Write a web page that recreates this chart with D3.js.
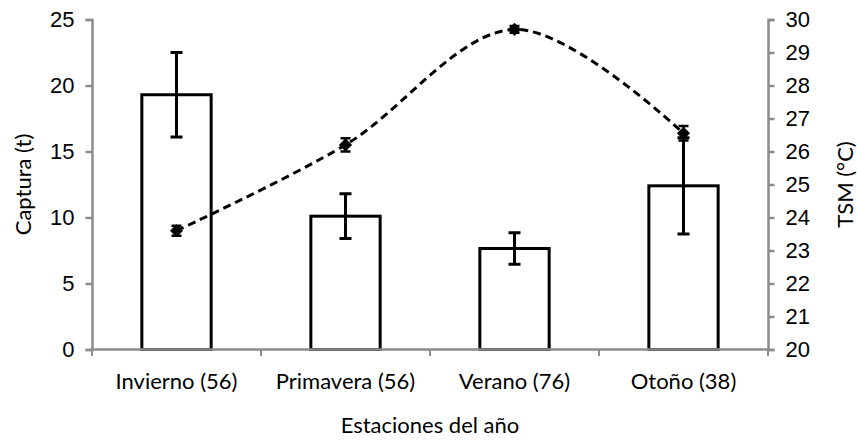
<!DOCTYPE html>
<html>
<head>
<meta charset="utf-8">
<script src="https://cdn.jsdelivr.net/npm/d3@7"></script>
<style>
  body { margin: 0; background: #fff; }
  svg { display: block; font-family: Lato, "Open Sans", sans-serif; }
</style>
</head>
<body>
<script>
const seasons = ["Invierno (56)", "Primavera (56)", "Verano (76)", "Otoño (38)"];
const captura = [19.3, 10.1, 7.65, 12.4];
const capturaErr = [3.2, 1.7, 1.2, 3.65];
const tsm = [23.6, 26.2, 29.7, 26.55];
const tsmErr = [0.15, 0.2, 0.1, 0.22];
const leftTicks = [0, 5, 10, 15, 20, 25];
const rightTicks = [20, 21, 22, 23, 24, 25, 26, 27, 28, 29, 30];

(function(){
  const width = 857, height = 440;
  const margin = {top: 19.5, right: 89, bottom: 90.5, left: 92};
  const axisColor = "#8c8c8c";
  const fontSize = 22;

  const x = d3.scaleBand()
      .domain(seasons)
      .range([margin.left, width - margin.right])
      .paddingInner(0.59)
      .paddingOuter(0.295);

  const y = d3.scaleLinear()
      .domain([0, 25])
      .range([height - margin.bottom, margin.top]);

  const y2 = d3.scaleLinear()
      .domain([20, 30])
      .range([height - margin.bottom, margin.top]);

  const cx = d => x(d) + x.bandwidth() / 2;

  const svg = d3.create("svg")
      .attr("width", width)
      .attr("height", height)
      .attr("viewBox", [0, 0, width, height]);

  // bars
  svg.append("g")
      .attr("fill", "#fff")
      .attr("stroke", "#000")
      .attr("stroke-width", 3)
    .selectAll("rect")
    .data(seasons)
    .join("rect")
      .attr("x", d => x(d))
      .attr("y", (d, i) => y(captura[i]))
      .attr("width", x.bandwidth())
      .attr("height", (d, i) => y(0) - y(captura[i]));

  // capture error bars
  svg.append("g")
      .attr("stroke", "#000")
      .attr("stroke-width", 3)
      .attr("fill", "none")
    .selectAll("path")
    .data(seasons)
    .join("path")
      .attr("d", (d, i) => {
        const hi = y(captura[i] + capturaErr[i]);
        const lo = y(captura[i] - capturaErr[i]);
        return `M${cx(d) - 6},${hi}H${cx(d) + 6}M${cx(d)},${hi}V${lo}M${cx(d) - 6},${lo}H${cx(d) + 6}`;
      });

  // x axis (ticks sit between categories)
  const xAxis = svg.append("g")
      .attr("transform", `translate(0,${y(0)})`);
  xAxis.append("path")
      .attr("stroke", axisColor)
      .attr("stroke-width", 2.5)
      .attr("d", `M${margin.left},0H${width - margin.right}`);
  xAxis.selectAll("line")
    .data(d3.range(seasons.length + 1))
    .join("line")
      .attr("stroke", axisColor)
      .attr("stroke-width", 2)
      .attr("x1", i => margin.left + i * x.step())
      .attr("x2", i => margin.left + i * x.step())
      .attr("y1", 0).attr("y2", 6.5);
  xAxis.selectAll("text")
    .data(seasons)
    .join("text")
      .attr("x", cx)
      .attr("y", 39)
      .attr("text-anchor", "middle")
      .attr("font-size", fontSize)
      .attr("fill", "#000")
      .text(d => d);

  svg.append("g")
      .attr("transform", `translate(${margin.left},0)`)
      .call(d3.axisLeft(y).tickValues(leftTicks).tickSize(6.5).tickPadding(11))
      .call(g => g.selectAll("path, line").attr("stroke", axisColor).attr("stroke-width", 2.5))
      .call(g => g.selectAll("text").attr("font-size", fontSize).attr("fill", "#000").attr("font-family", null));

  svg.append("g")
      .attr("transform", `translate(${width - margin.right},0)`)
      .call(d3.axisRight(y2).tickValues(rightTicks).tickSize(6.5).tickPadding(11))
      .call(g => g.selectAll("path, line").attr("stroke", axisColor).attr("stroke-width", 2.5))
      .call(g => g.selectAll("text").attr("font-size", fontSize).attr("fill", "#000").attr("font-family", null));

  // temperature line
  const line = d3.line()
      .x((d, i) => cx(seasons[i]))
      .y(d => y2(d))
      .curve(d3.curveCardinal.tension(0));

  svg.append("path")
      .datum(tsm)
      .attr("fill", "none")
      .attr("stroke", "#000")
      .attr("stroke-width", 3)
      .attr("stroke-dasharray", "8,5")
      .attr("d", line);

  svg.append("g")
      .attr("stroke", "#000")
      .attr("stroke-width", 2.5)
      .attr("fill", "none")
    .selectAll("path")
    .data(tsm)
    .join("path")
      .attr("d", (d, i) => {
        const c = cx(seasons[i]);
        const hi = y2(d + tsmErr[i]);
        const lo = y2(d - tsmErr[i]);
        return `M${c - 5},${hi}H${c + 5}M${c},${hi}V${lo}M${c - 5},${lo}H${c + 5}`;
      });

  svg.append("g")
      .attr("fill", "#000")
    .selectAll("path")
    .data(tsm)
    .join("path")
      .attr("transform", (d, i) => `translate(${cx(seasons[i])},${y2(d)})`)
      .attr("d", d3.symbol(d3.symbolDiamond2, 110));

  // titles
  svg.append("text")
      .attr("transform", `translate(31,${(margin.top + y(0)) / 2}) rotate(-90)`)
      .attr("text-anchor", "middle")
      .attr("font-size", fontSize)
      .text("Captura (t)");

  svg.append("text")
      .attr("transform", `translate(853,${(margin.top + y(0)) / 2}) rotate(-90)`)
      .attr("text-anchor", "middle")
      .attr("font-size", fontSize)
      .text("TSM (°C)");

  svg.append("text")
      .attr("x", (margin.left + width - margin.right) / 2)
      .attr("y", 433)
      .attr("text-anchor", "middle")
      .attr("font-size", fontSize)
      .text("Estaciones del año");

  document.body.appendChild(svg.node());
})();
</script>
</body>
</html>
